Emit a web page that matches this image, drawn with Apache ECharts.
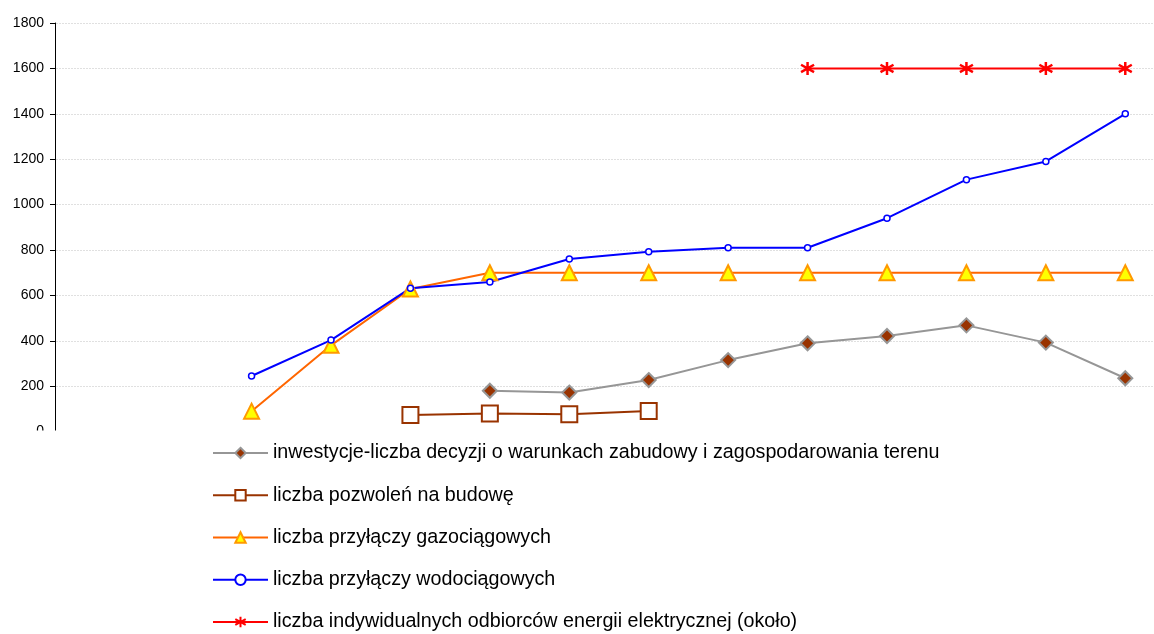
<!DOCTYPE html>
<html>
<head>
<meta charset="utf-8">
<script src="https://cdn.jsdelivr.net/npm/echarts@6/dist/echarts.min.js"></script>
<style>
  html, body { margin: 0; padding: 0; background: #fff; }
  #box { width: 1154px; height: 634px; }
</style>
</head>
<body>
<div id="box"></div>
<script>
// kolejne okresy (podpisy osi X nie są widoczne na wykresie)
var categories = ['1', '2', '3', '4', '5', '6', '7', '8', '9', '10', '11', '12', '13', '14'];

var seriesNames = [
  'inwestycje-liczba decyzji o warunkach zabudowy i zagospodarowania terenu',
  'liczba pozwoleń na budowę',
  'liczba przyłączy gazociągowych',
  'liczba przyłączy wodociągowych',
  'liczba indywidualnych odbiorców energii elektrycznej (około)'
];

var decyzje = [null, null, null, null, null, 180, 172, 227, 315, 389, 421, 468, 392, 235];
var pozwolenia = [null, null, null, null, 73, 80, 76, 91, null, null, null, null, null, null];
var gaz = [null, null, 90, 380, 628, 700, 700, 700, 700, 700, 700, 700, 700, 700];
var woda = [null, null, 245, 403, 632, 659, 760, 792, 810, 810, 940, 1110, 1190, 1400];
var energia = [null, null, null, null, null, null, null, null, null, 1600, 1600, 1600, 1600, 1600];

var yTicks = [0, 200, 400, 600, 800, 1000, 1200, 1400, 1600, 1800];

var FONT = '"Liberation Sans", Arial, sans-serif';
var starPath = 'path://M5,0L5,10M0.7,2.2L9.3,7.8M9.3,2.2L0.7,7.8';

var chart = echarts.init(document.getElementById('box'));

var option = {
  animation: false,
  textStyle: { fontFamily: FONT },
  grid: { left: 53, top: 23, width: 1112, height: 408.6, outerBoundsMode: 'none' },
  xAxis: {
    type: 'category',
    data: categories,
    boundaryGap: true,
    axisLine: { show: false },
    axisTick: { show: false },
    axisLabel: { show: false },
    splitLine: { show: false }
  },
  yAxis: {
    type: 'value',
    offset: -2,
    min: yTicks[0],
    max: yTicks[yTicks.length - 1],
    interval: 200,
    axisLine: { show: true, lineStyle: { color: '#000', width: 1 } },
    axisTick: { show: true, length: 5, lineStyle: { color: '#000' } },
    axisLabel: {
      color: '#000', fontSize: 14, margin: 11, fontFamily: FONT,
      formatter: function (v) { return String(v); }
    },
    splitLine: { show: true, lineStyle: { color: '#e0e0e0', type: [2, 1], width: 1 } }
  },
  legend: {
    orient: 'vertical',
    left: 212,
    top: 443,
    height: 195,
    padding: 0,
    itemWidth: 55,
    itemHeight: 13,
    itemGap: 22.25,
    textStyle: { color: '#000', fontSize: 19.7, fontFamily: FONT },
    data: seriesNames
  },
  graphic: [{
    type: 'rect',
    z: 3,
    shape: { x: 0, y: 430.5, width: 1154, height: 210 },
    style: { fill: '#fff' }
  }],
  series: [
    {
      name: seriesNames[0], type: 'line', data: decyzje,
      symbol: 'diamond', symbolSize: 14,
      lineStyle: { color: '#969696', width: 2 },
      itemStyle: { color: '#993300', borderColor: '#969696', borderWidth: 2 }
    },
    {
      name: seriesNames[1], type: 'line', data: pozwolenia,
      symbol: 'rect', symbolSize: 16,
      lineStyle: { color: '#993300', width: 2 },
      itemStyle: { color: '#fff', borderColor: '#993300', borderWidth: 2 }
    },
    {
      name: seriesNames[2], type: 'line', data: gaz,
      symbol: 'triangle', symbolSize: 15,
      lineStyle: { color: '#ff6600', width: 2 },
      itemStyle: { color: '#ffff00', borderColor: '#ff9900', borderWidth: 2 }
    },
    {
      name: seriesNames[3], type: 'line', data: woda,
      symbol: 'circle', symbolSize: 6,
      lineStyle: { color: '#0000ff', width: 2 },
      itemStyle: { color: '#fff', borderColor: '#0000ff', borderWidth: 1.5 }
    },
    {
      name: seriesNames[4], type: 'line', data: energia,
      symbol: starPath, symbolSize: 13,
      lineStyle: { color: '#ff0000', width: 2 },
      itemStyle: { color: '#ff0000', borderColor: '#ff0000', borderWidth: 2.5 }
    }
  ]
};

chart.setOption(option);
</script>
</body>
</html>
